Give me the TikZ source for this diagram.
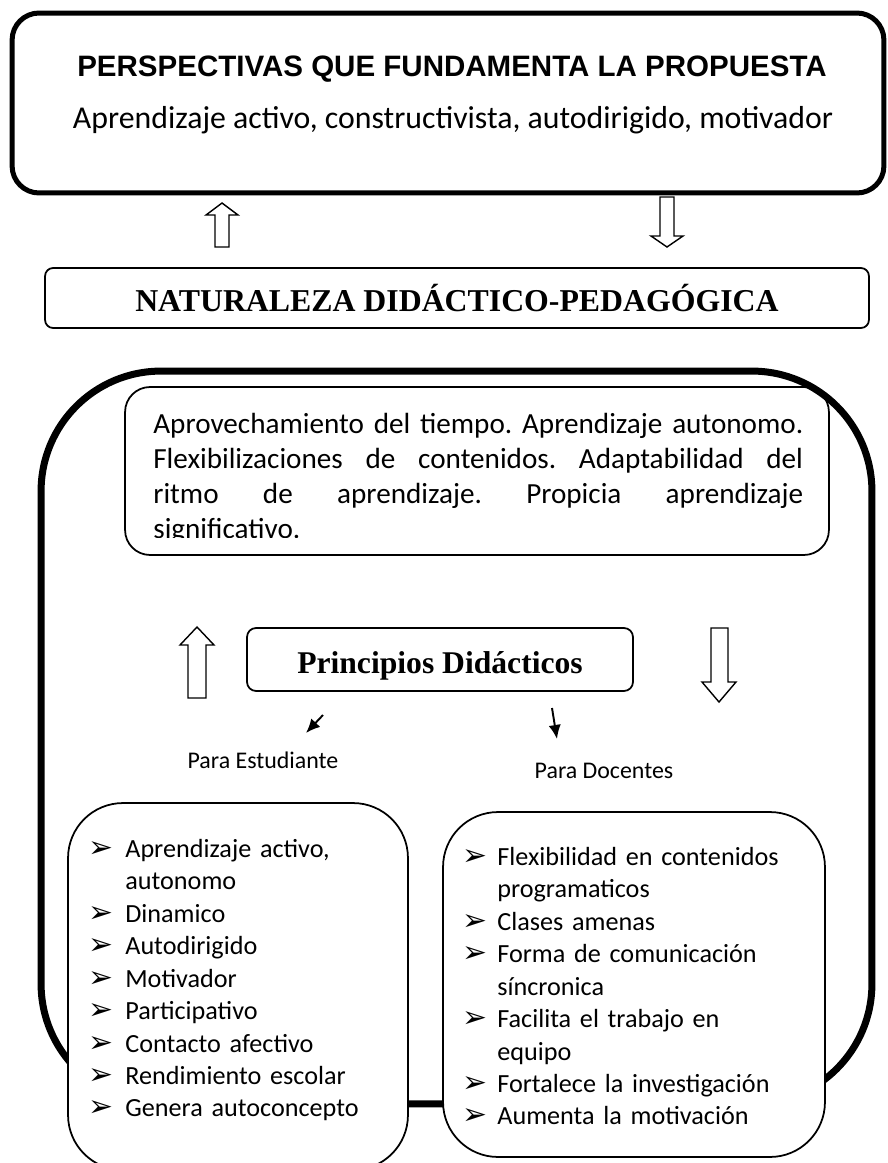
\documentclass[tikz,border=0pt]{standalone}
\usepackage{fontspec}
\setmainfont{Carlito}
\newfontfamily\arialfont{Liberation Sans}
\newfontfamily\timesfont{Liberation Serif}
\newfontfamily\dejavufont{DejaVu Sans}
\usetikzlibrary{arrows.meta, positioning}
\newcommand{\vineta}[1]{\makebox[#1][l]{\dejavufont\fontsize{17pt}{17pt}\selectfont ➢}}

\begin{document}
\begin{tikzpicture}[
    x=0.02cm, y=-0.02cm,
    boxThick/.style={
        rectangle,
        rounded corners=0.54cm,
        draw,
        line width=0.1cm,
        minimum width=17.44cm,
        minimum height=3.6cm
    },
    boxBig/.style={
        rectangle,
        rounded corners=2.4cm,
        draw,
        line width=0.14cm,
        minimum width=16.62cm,
        minimum height=14.66cm
    },
    boxThin/.style={
        rectangle,
        draw,
        line width=1pt,
        fill=white,
        inner sep=0pt
    },
    hollowArrow/.style={draw, line width=0.8pt, fill=white},
    smallArrow/.style={line width=1.1pt, -{Latex[length=8pt, width=7pt]}},
    listText/.style={
        anchor=north west,
        inner sep=0pt,
        align=left,
        font=\fontsize{14.9pt}{18.45pt}\selectfont
    }
]
\useasboundingbox (0,0) rectangle (888,1163);

% Bloque superior
\node[boxThick] (perspectivas) at (448,103) {};
\node[font=\arialfont\bfseries\fontsize{16.8pt}{19pt}\selectfont, anchor=base] (titulo) at (452,76) {PERSPECTIVAS QUE FUNDAMENTA LA PROPUESTA};
\node[font=\fontsize{18.1pt}{21pt}\selectfont, anchor=base] (enfoques) at (453,128) {Aprendizaje activo, constructivista, autodirigido, motivador};

% Flechas entre bloques
\draw[hollowArrow] (215,247) -- (215,215) -- (206,215) -- (222,203) -- (238,215) -- (229,215) -- (229,247) -- cycle;
\draw[hollowArrow] (660,197) -- (660,236) -- (651,236) -- (667,247) -- (683,236) -- (674,236) -- (674,197) -- cycle;

\node[boxThin, rounded corners=0.16cm, minimum width=16.48cm, minimum height=1.2cm] (naturaleza) at (457,298) {};
\node[font=\timesfont\bfseries\fontsize{18.1pt}{21pt}\selectfont, anchor=base] (naturalezaTexto) at (457,311) {NATURALEZA DIDÁCTICO-PEDAGÓGICA};

% Contenedor grande
\node[boxBig] (contenedor) at (456.5,737.5) {};

\node[boxThin, fill=none, rounded corners=0.5cm, minimum width=14.08cm, minimum height=3.36cm] (ventajas) at (477,471) {};
\begin{scope}
    \clip (125,387) rectangle (829,537);
    \node[anchor=north west, inner sep=0pt, text width=13cm, align=justify,
          font=\fontsize{16.6pt}{19.85pt}\selectfont] (ventajasTexto) at (153,413)
    {\frenchspacing\tolerance=9999\relax
     Aprovechamiento del tiempo. Aprendizaje autonomo.\linebreak
     Flexibilizaciones de contenidos. Adaptabilidad del\linebreak
     ritmo de aprendizaje. Propicia aprendizaje\linebreak
     significativo.};
\end{scope}

% Principios
\draw[hollowArrow] (188,698) -- (188,645) -- (180,645) -- (197,627) -- (214,645) -- (206,645) -- (206,698) -- cycle;
\node[boxThin, rounded corners=0.18cm, minimum width=7.72cm, minimum height=1.26cm] (principios) at (440,659.5) {};
\node[font=\timesfont\bfseries\fontsize{18pt}{21pt}\selectfont, anchor=base] (principiosTexto) at (440,673) {Principios Didácticos};
\draw[hollowArrow] (711,628) -- (711,682) -- (702,682) -- (719,702) -- (736,682) -- (728,682) -- (728,628) -- cycle;

\coordinate (estInicio) at (323,715);
\coordinate (estFin) at (306,733);
\coordinate (docInicio) at (552,708);
\coordinate (docFin) at (557,739);
\draw[smallArrow] (estInicio) -- (estFin);
\draw[smallArrow] (docInicio) -- (docFin);

\node[font=\fontsize{13.6pt}{16pt}\selectfont, anchor=base] (paraEst) at (263,768) {Para Estudiante};
\node[font=\fontsize{13.6pt}{16pt}\selectfont, anchor=base] (paraDoc) at (604,778) {Para Docentes};

% Listas
\node[boxThin, rounded corners=1.1cm, minimum width=6.8cm, minimum height=7.34cm] (estudiante) at (238,986.5) {};
\node[boxThin, rounded corners=1.1cm, minimum width=7.64cm, minimum height=6.9cm] (docentes) at (634,984.5) {};

\node[listText, text width=6cm] (listaEst) at (88,839) {
\vineta{0.74cm}Aprendizaje activo,\\
\hspace*{0.74cm}autonomo\\
\vineta{0.74cm}Dinamico\\
\vineta{0.74cm}Autodirigido\\
\vineta{0.74cm}Motivador\\
\vineta{0.74cm}Participativo\\
\vineta{0.74cm}Contacto afectivo\\
\vineta{0.74cm}Rendimiento escolar\\
\vineta{0.74cm}Genera autoconcepto
};

\node[listText, text width=6.88cm] (listaDoc) at (462,847) {
\vineta{0.7cm}Flexibilidad en contenidos\\
\hspace*{0.7cm}programaticos\\
\vineta{0.7cm}Clases amenas\\
\vineta{0.7cm}Forma de comunicación\\
\hspace*{0.7cm}síncronica\\
\vineta{0.7cm}Facilita el trabajo en\\
\hspace*{0.7cm}equipo\\
\vineta{0.7cm}Fortalece la investigación\\
\vineta{0.7cm}Aumenta la motivación
};

\end{tikzpicture}
\end{document}
